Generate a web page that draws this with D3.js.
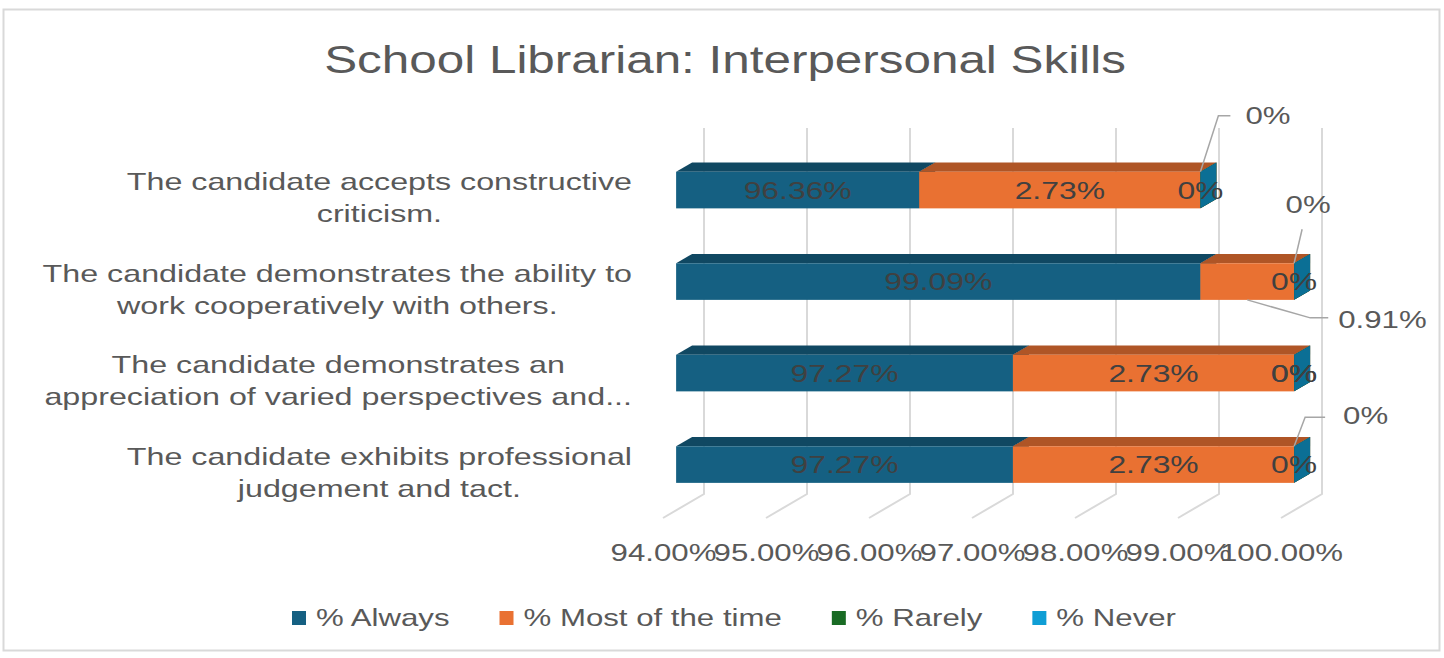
<!DOCTYPE html>
<html>
<head>
<meta charset="utf-8">
<script src="https://cdn.jsdelivr.net/npm/d3@7"></script>
<style>
    body { margin: 0; background: #fff; }
    svg text { font-family: "Liberation Sans", Arial, sans-serif; }
</style>
</head>
<body>
<div class="output"></div>
<script>
const title = "School Librarian: Interpersonal Skills";
const categories = ["accepts", "cooperates", "appreciates", "judgement"];
const categoryLines = [
    ["The candidate accepts constructive", "criticism."],
    ["The candidate demonstrates the ability to", "work cooperatively with others."],
    ["The candidate demonstrates an", "appreciation of varied perspectives and..."],
    ["The candidate exhibits professional", "judgement and tact."]
];
const seriesNames = ["% Always", "% Most of the time", "% Rarely", "% Never"];
const always = [96.36, 99.09, 97.27, 97.27];
const mostOfTheTime = [2.73, 0.91, 2.73, 2.73];
const rarely = [0, 0, 0, 0];
const never = [0, 0, 0, 0];
const tickValues = [94, 95, 96, 97, 98, 99, 100];

// labels that were dragged out of the bar, with leader lines (offsets from the segment anchor)
const callouts = [
    { row: 0, s: 3, pts: [[0, 0], [18, -56], [30, -56]], tx: 45, ty: -56, anchor: "start" },
    { row: 1, s: 3, pts: [[0, 0], [8, -34]], tx: 14, ty: -58, anchor: "middle" },
    { row: 1, s: 1, pts: [[0, 0], [63, 18], [81, 18]], tx: 91, ty: 20, anchor: "start" },
    { row: 3, s: 3, pts: [[0, 0], [11, -29], [31, -29]], tx: 49, ty: -30, anchor: "start" }
];

const W = 1444, H = 658;
const SX = 1.3;              // picture is stretched horizontally
const plot = { left: 704, right: 1322, top: 128, bottom: 494 };
const DX = 41, DY = 24;      // floor depth offset
const dBack = 0.29, dFront = 0.68;
const colors = ["#156082", "#E97132", "#196B24", "#0F9ED5"];
const keys = ["always", "most", "rarely", "never"];

const svg = d3.select(".output").append("svg")
    .attr("width", W)
    .attr("height", H);

svg.append("rect")
    .attr("x", 3.5).attr("y", 9.5)
    .attr("width", 1436).attr("height", 641)
    .attr("fill", "#fff")
    .attr("stroke", "#d9d9d9")
    .attr("stroke-width", 2);

function stext(parent, px, py, str, size, color, anchor) {
    return parent.append("text")
        .attr("transform", "translate(" + px + "," + py + ") scale(" + SX + ",1)")
        .attr("text-anchor", anchor || "middle")
        .attr("dominant-baseline", "central")
        .style("font-size", size + "px")
        .attr("fill", color)
        .text(str);
}

// Заголовок
stext(svg, 725, 60, title, 38, "#595959");

let x = d3.scaleLinear().domain([94, 100]).range([plot.left, plot.right]);
let y = d3.scaleBand().domain(categories).range([plot.top, plot.bottom])
    .paddingInner(0.6).paddingOuter(0.3);
let proj = (xv, yv, d) => [xv - d * DX, yv + d * DY];

// Сетка
svg.append("g")
    .selectAll("path")
    .data(tickValues)
    .enter().append("path")
    .attr("d", (v) => "M" + x(v) + "," + plot.top + "V" + plot.bottom + "L" + (x(v) - DX) + "," + (plot.bottom + DY))
    .attr("fill", "none")
    .attr("stroke", "#d9d9d9")
    .attr("stroke-width", 2);

// Ось X
let axis = svg.append("g")
    .attr("transform", "translate(" + (-DX) + "," + (plot.bottom + DY + 23) + ")")
    .call(d3.axisBottom(x).tickValues(tickValues).tickSize(0).tickFormat((v) => d3.format(".2f")(v) + "%"));
axis.select(".domain").remove();
axis.selectAll("text")
    .attr("transform", "scale(" + SX + ",1)")
    .attr("fill", "#595959")
    .style("font-size", "24px");

// Данные
let table = categories.map((c, i) => ({
    cat: c, always: always[i], most: mostOfTheTime[i], rarely: rarely[i], never: never[i]
}));
let stacked = d3.stack().keys(keys)(table);

let bars = svg.append("g");
let pt = (p) => p[0] + "," + p[1];
stacked.forEach((layer, s) => {
    let c = d3.color(colors[s]);
    layer.forEach((d, i) => {
        let x0 = x(Math.max(94, d[0])), x1 = x(d[1]);
        let yt = y(d.data.cat), yb = yt + y.bandwidth();
        let ftl = proj(x0, yt, dFront), ftr = proj(x1, yt, dFront), fbr = proj(x1, yb, dFront);
        let btl = proj(x0, yt, dBack), btr = proj(x1, yt, dBack), bbr = proj(x1, yb, dBack);
        let g = bars.append("g");
        g.append("polygon")
            .attr("points", [ftl, ftr, btr, btl].map(pt).join(" "))
            .attr("fill", c.darker(0.8));
        g.append("rect")
            .attr("x", ftl[0]).attr("y", ftl[1])
            .attr("width", x1 - x0).attr("height", y.bandwidth())
            .attr("fill", c);
        g.append("polygon")
            .attr("points", [ftr, btr, bbr, fbr].map(pt).join(" "))
            .attr("fill", c.darker(1.0));
    });
});

// Подписи значений
let labels = svg.append("g");
stacked.forEach((layer, s) => {
    layer.forEach((d, i) => {
        let x0 = x(Math.max(94, d[0])), x1 = x(d[1]);
        let yt = y(d.data.cat);
        let val = d[1] - d[0];
        let txt = d3.format(".2~f")(val) + "%";
        let co = callouts.find((k) => k.row === i && k.s === s);
        let fx = (x0 + x1) / 2 - dFront * DX;
        if (!co) {
            stext(labels, fx, yt + dFront * DY + y.bandwidth() / 2, txt, 24.5, "#404040");
            return;
        }
        // anchor: Never -> top corner at the end, others -> bottom middle
        let ax = s === 3 ? x1 - dFront * DX : fx;
        let ay = s === 3 ? yt + dFront * DY : yt + dFront * DY + y.bandwidth();
        labels.append("path")
            .attr("d", d3.line()(co.pts.map((p) => [ax + p[0], ay + p[1]])))
            .attr("fill", "none")
            .attr("stroke", "#a6a6a6")
            .attr("stroke-width", 1.5);
        stext(labels, ax + co.tx, ay + co.ty, txt, 24, "#595959", co.anchor);
    });
});

// Подписи категорий
let catG = svg.append("g");
let labelRight = plot.left - DX - 31;
categories.forEach((c, i) => {
    let lines = categoryLines[i];
    let yc = y(c) + y.bandwidth() / 2 + DY;
    let nodes = lines.map((l, k) =>
        stext(catG, 0, yc + (k - (lines.length - 1) / 2) * 32, l, 24.8, "#595959"));
    let maxW = d3.max(nodes, (n) => n.node().getComputedTextLength()) * SX;
    let cx = labelRight - maxW / 2;
    nodes.forEach((n, k) => n.attr("transform",
        "translate(" + cx + "," + (yc + (k - (lines.length - 1) / 2) * 32) + ") scale(" + SX + ",1)"));
});

// Легенда
let legend = svg.append("g");
let lx = 0;
let items = seriesNames.map((name, s) => {
    let g = legend.append("g");
    g.append("rect").attr("x", 0).attr("y", -7).attr("width", 14).attr("height", 14).attr("fill", colors[s]);
    let t = stext(g, 24, 0, name, 24, "#595959", "start");
    let w = 24 + t.node().getComputedTextLength() * SX;
    g.attr("transform", "translate(" + lx + ",0)");
    lx += w + 50;
    return g;
});
let legendW = lx - 50;
legend.attr("transform", "translate(" + (734 - legendW / 2) + ",618)");
</script>
</body>
</html>
